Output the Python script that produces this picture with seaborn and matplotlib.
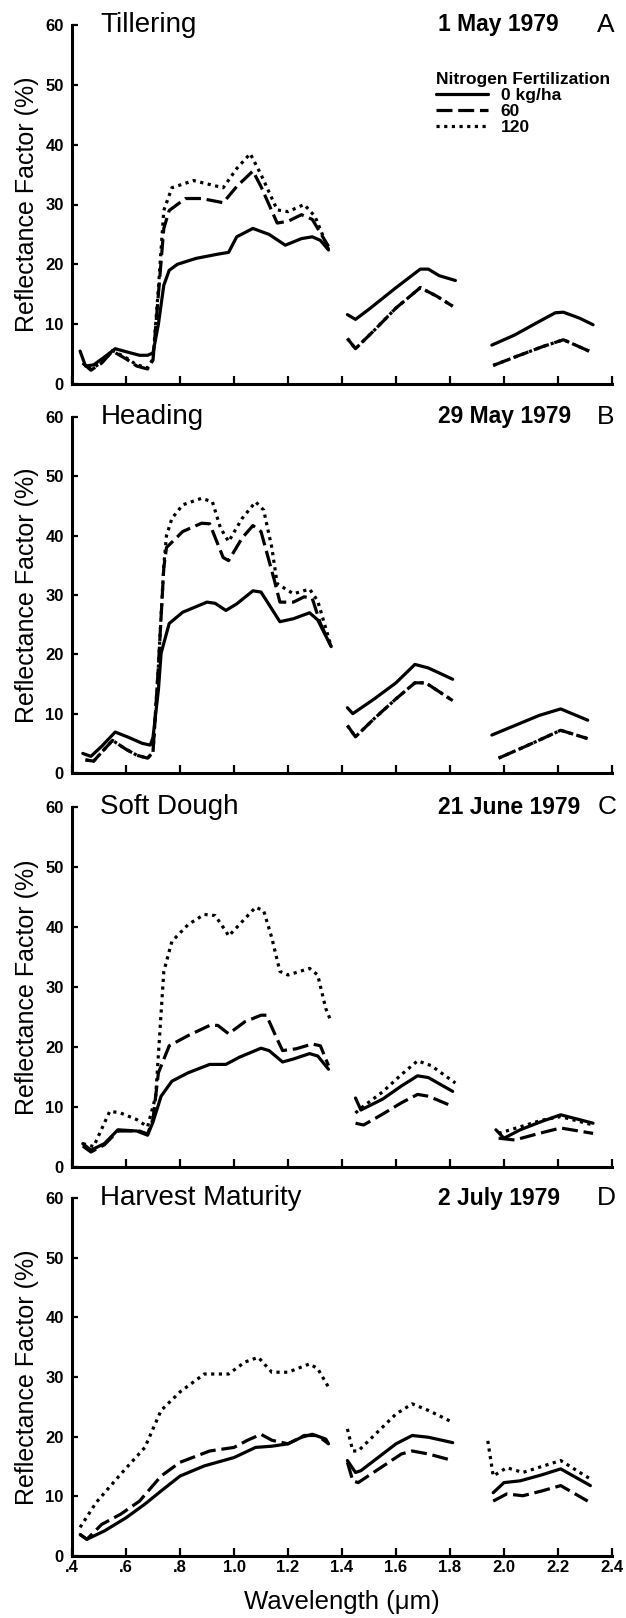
import numpy as np
import pandas as pd
import matplotlib
matplotlib.use("Agg")
import matplotlib.pyplot as plt
import seaborn as sns
from matplotlib.lines import Line2D

# Spectral reflectance of wheat canopies, 3 nitrogen levels, 4 growth stages
levels = ["0 kg/ha", "60", "120"]
panel_titles = ["Tillering", "Heading", "Soft Dough", "Harvest Maturity"]
panel_dates = ["1 May 1979", "29 May 1979", "21 June 1979", "2 July 1979"]
panel_letters = ["A", "B", "C", "D"]
x_ticks = [0.4, 0.6, 0.8, 1.0, 1.2, 1.4, 1.6, 1.8, 2.0, 2.2, 2.4]
x_ticklabels = [".4", ".6", ".8", "1.0", "1.2", "1.4", "1.6", "1.8", "2.0", "2.2", "2.4"]

# --- A: Tillering
A_wl_0 = [0.43, 0.45, 0.48, 0.52, 0.56, 0.60, 0.65, 0.68, 0.70, 0.72, 0.74, 0.76, 0.79, 0.86, 0.94, 0.98, 1.01, 1.07, 1.13, 1.19, 1.25, 1.29, 1.32, 1.35,
          1.42, 1.45, 1.50, 1.60, 1.69, 1.72, 1.76, 1.82,
          1.955, 2.04, 2.12, 2.19, 2.22, 2.28, 2.33]
A_rf_0 = [5.5, 3.0, 3.2, 4.5, 5.9, 5.4, 4.8, 4.8, 5.2, 10, 16.5, 19, 20, 21, 21.7, 22, 24.6, 26, 25, 23.2, 24.3, 24.6, 24, 22.4,
          11.6, 10.8, 12.5, 16.1, 19.2, 19.2, 18.1, 17.3,
          6.5, 8.2, 10.2, 11.9, 12, 11, 9.9]
A_wl_60 = [0.44, 0.47, 0.51, 0.55, 0.60, 0.64, 0.68, 0.70, 0.72, 0.74, 0.76, 0.82, 0.88, 0.96, 1.01, 1.07, 1.10, 1.16, 1.20, 1.25, 1.29, 1.35,
           1.42, 1.45, 1.52, 1.60, 1.69, 1.75, 1.81,
           1.96, 2.04, 2.14, 2.22, 2.32]
A_rf_60 = [3.5, 2.3, 3.5, 5.5, 4.2, 3.0, 2.5, 4, 15, 26, 29, 31, 31, 30.3, 33, 35.6, 33, 26.9, 27.2, 28.3, 27.5, 23,
           7.6, 5.9, 9.0, 12.7, 16.1, 14.7, 13,
           3.1, 4.5, 6.2, 7.4, 5.4]
A_wl_120 = [0.44, 0.47, 0.51, 0.55, 0.60, 0.64, 0.68, 0.70, 0.72, 0.74, 0.77, 0.85, 0.96, 1.01, 1.06, 1.10, 1.16, 1.20, 1.26, 1.30, 1.35,
            1.42, 1.45, 1.52, 1.60, 1.69, 1.75, 1.81,
            1.96, 2.04, 2.14, 2.22, 2.32]
A_rf_120 = [3.5, 2.5, 3.6, 5.6, 4.4, 3.2, 2.7, 4.2, 16, 29, 32.8, 34, 32.8, 36, 38.5, 35, 29.1, 28.8, 30, 28, 22.5,
            7.6, 5.9, 9.0, 12.7, 16.1, 14.7, 13,
            3.1, 4.5, 6.2, 7.4, 5.4]

# --- B: Heading
B_wl_0 = [0.44, 0.47, 0.51, 0.56, 0.61, 0.66, 0.69, 0.70, 0.72, 0.73, 0.76, 0.81, 0.90, 0.93, 0.97, 1.01, 1.07, 1.10, 1.17, 1.22, 1.28, 1.31, 1.36,
          1.42, 1.44, 1.52, 1.60, 1.67, 1.72, 1.81,
          1.955, 2.04, 2.13, 2.21, 2.31]
B_rf_0 = [3.3, 2.8, 4.5, 6.9, 6.0, 5.0, 4.7, 6, 14, 20.2, 25.2, 27.1, 28.8, 28.6, 27.4, 28.5, 30.7, 30.5, 25.5, 26, 27, 25.8, 21.3,
          11, 10, 12.5, 15.2, 18.3, 17.7, 15.8,
          6.4, 8, 9.7, 10.8, 8.9]
B_wl_60 = [0.45, 0.48, 0.55, 0.60, 0.64, 0.68, 0.70, 0.72, 0.74, 0.75, 0.81, 0.88, 0.91, 0.96, 0.98, 1.03, 1.07, 1.10, 1.15, 1.17, 1.22, 1.26, 1.29, 1.32, 1.36,
           1.42, 1.45, 1.52, 1.60, 1.67, 1.71, 1.81,
           1.98, 2.09, 2.21, 2.31]
B_rf_60 = [2.2, 2.0, 5.5, 4.0, 3.0, 2.5, 3.5, 18, 34.6, 38, 40.7, 42.1, 42, 36.3, 35.8, 39.6, 41.7, 40.7, 32.4, 28.8, 28.8, 29.7, 29.4, 25.2, 21.3,
           8, 6.1, 9.2, 12.5, 15.2, 15.2, 12.2,
           2.5, 4.7, 7.2, 5.8]
B_wl_120 = [0.45, 0.48, 0.55, 0.60, 0.64, 0.68, 0.70, 0.72, 0.74, 0.75, 0.77, 0.81, 0.88, 0.92, 0.95, 0.98, 1.03, 1.08, 1.11, 1.14, 1.16, 1.22, 1.28, 1.31, 1.36,
            1.42, 1.45, 1.52, 1.60, 1.67, 1.71, 1.81,
            1.98, 2.09, 2.21, 2.31]
B_rf_120 = [2.2, 2.0, 5.5, 4.0, 3.0, 2.5, 3.5, 18, 35, 40, 42.9, 45.2, 46.3, 45.7, 41.3, 39, 42.9, 45.7, 44.3, 38, 31.9, 30.2, 31, 29, 21.3,
            8, 6.1, 9.2, 12.5, 15.2, 15.2, 12.2,
            2.5, 4.7, 7.2, 5.8]

# --- C: Soft Dough
C_wl_0 = [0.44, 0.47, 0.52, 0.57, 0.64, 0.68, 0.70, 0.73, 0.77, 0.83, 0.91, 0.97, 1.02, 1.10, 1.13, 1.18, 1.22, 1.28, 1.31, 1.33, 1.35,
          1.45, 1.47, 1.55, 1.62, 1.68, 1.72, 1.81,
          1.97, 2.00, 2.06, 2.14, 2.21, 2.33]
C_rf_0 = [3.9, 2.8, 3.9, 6.2, 6.0, 5.3, 7.5, 11.8, 14.3, 15.7, 17.1, 17.1, 18.3, 19.8, 19.4, 17.5, 18, 18.9, 18.5, 17.4, 16.3,
          11.5, 9.5, 11.3, 13.5, 15.2, 14.9, 12.6,
          6.2, 4.8, 6.2, 7.6, 8.7, 7.3]
C_wl_60 = [0.44, 0.47, 0.52, 0.57, 0.65, 0.68, 0.70, 0.72, 0.76, 0.83, 0.91, 0.94, 0.98, 1.04, 1.10, 1.12, 1.16, 1.18, 1.23, 1.29, 1.32, 1.35,
           1.45, 1.48, 1.55, 1.62, 1.68, 1.72, 1.81,
           1.98, 2.04, 2.13, 2.21, 2.33]
C_rf_60 = [3.5, 2.5, 3.7, 6.0, 6.0, 5.5, 8, 15.7, 20.2, 21.9, 23.6, 23.6, 22.2, 24.2, 25.3, 25.3, 21.3, 19.4, 19.7, 20.5, 20.2, 16.9,
           7.3, 7.0, 8.8, 10.7, 12.1, 11.8, 10.1,
           4.8, 4.5, 5.6, 6.5, 5.6]
C_wl_120 = [0.44, 0.48, 0.54, 0.58, 0.64, 0.68, 0.71, 0.74, 0.77, 0.83, 0.89, 0.93, 0.97, 0.98, 1.02, 1.08, 1.11, 1.14, 1.17, 1.20, 1.28, 1.31, 1.34, 1.36,
            1.45, 1.47, 1.55, 1.62, 1.68, 1.73, 1.82,
            1.98, 2.06, 2.14, 2.21, 2.33]
C_rf_120 = [3.9, 3.4, 9.3, 9.0, 7.9, 6.7, 11.8, 32.6, 37.6, 40.4, 42.1, 41.9, 39.3, 38.5, 40.4, 43.3, 42.7, 38.2, 32.6, 32, 33.1, 32, 26.4, 24.2,
            9, 9.8, 12.5, 15.4, 17.7, 16.9, 14,
            5.6, 6.7, 7.8, 8.4, 7]

# --- D: Harvest Maturity
D_wl_0 = [0.43, 0.455, 0.52, 0.60, 0.67, 0.73, 0.80, 0.89, 1.00, 1.08, 1.14, 1.20, 1.25, 1.29, 1.34, 1.35,
          1.42, 1.45, 1.47, 1.60, 1.66, 1.72, 1.81,
          1.96, 2.00, 2.06, 2.14, 2.21, 2.32]
D_rf_0 = [3.6, 2.8, 4.2, 6.4, 8.7, 10.9, 13.4, 15.1, 16.5, 18.2, 18.4, 18.8, 19.9, 20.4, 19.6, 18.8,
          16, 14, 14.3, 18.8, 20.2, 19.9, 19,
          10.6, 12.3, 12.6, 13.6, 14.6, 11.8]
D_wl_60 = [0.43, 0.455, 0.51, 0.58, 0.65, 0.73, 0.80, 0.91, 1.00, 1.05, 1.10, 1.14, 1.20, 1.26, 1.31, 1.35,
           1.42, 1.44, 1.46, 1.62, 1.66, 1.72, 1.81,
           1.96, 2.01, 2.07, 2.14, 2.21, 2.31]
D_rf_60 = [3.6, 2.8, 5.3, 7, 9.2, 13.4, 15.7, 17.6, 18.2, 19.4, 20.4, 19.4, 18.8, 20.2, 20.2, 18.8,
           15.7, 12.6, 12.3, 17.1, 17.6, 17.1, 16,
           9.2, 10.4, 10.1, 10.9, 11.8, 9.2]
D_wl_120 = [0.43, 0.49, 0.58, 0.67, 0.73, 0.80, 0.89, 0.98, 1.04, 1.09, 1.14, 1.20, 1.28, 1.31, 1.35,
            1.42, 1.44, 1.46, 1.60, 1.66, 1.72, 1.81,
            1.94, 1.96, 2.01, 2.07, 2.14, 2.21, 2.32]
D_rf_120 = [4.8, 9, 13.7, 18.2, 24.4, 27.5, 30.5, 30.5, 32.5, 33.3, 30.8, 30.8, 32.2, 31.4, 28.3,
            21.3, 17.6, 17.6, 23.8, 25.5, 24.4, 22.4,
            19.3, 13.4, 14.8, 14, 15, 16, 12.9]

panels = [
    [(A_wl_0, A_rf_0), (A_wl_60, A_rf_60), (A_wl_120, A_rf_120)],
    [(B_wl_0, B_rf_0), (B_wl_60, B_rf_60), (B_wl_120, B_rf_120)],
    [(C_wl_0, C_rf_0), (C_wl_60, C_rf_60), (C_wl_120, C_rf_120)],
    [(D_wl_0, D_rf_0), (D_wl_60, D_rf_60), (D_wl_120, D_rf_120)],
]

dash_map = {"0 kg/ha": "", "60": (5, 1.8), "120": (1, 1.4)}

sns.set_style("ticks")
plt.rcParams["font.family"] = ["Liberation Sans", "DejaVu Sans"]
plt.rcParams.update({"text.color": "black", "axes.labelcolor": "black",
                     "xtick.color": "black", "ytick.color": "black",
                     "axes.edgecolor": "black"})

W, H = 626, 1618
fig = plt.figure(figsize=(W / 100, H / 100), dpi=100)

# axes boxes in pixels: (y at 60, y at 0)
boxes = [(25, 384), (417, 773), (807, 1167), (1198, 1556)]
x_left, x_right = 72, 612

for i, (series, (y_top, y_bot)) in enumerate(zip(panels, boxes)):
    ax = fig.add_axes([x_left / W, 1 - y_bot / H, (x_right - x_left) / W, (y_bot - y_top) / H])

    frames = []
    for lvl, (wl, rf) in zip(levels, series):
        d = pd.DataFrame({"wavelength": wl, "reflectance": rf})
        d["nitrogen"] = lvl
        # split at the water absorption bands
        d["segment"] = np.digitize(d["wavelength"], [1.39, 1.9])
        frames.append(d)
    df = pd.concat(frames, ignore_index=True)

    sns.lineplot(data=df, x="wavelength", y="reflectance", style="nitrogen",
                 style_order=levels, dashes=dash_map, units="segment",
                 estimator=None, sort=False, color="black", lw=2.3,
                 legend=False, ax=ax)

    ax.set_xlim(0.4, 2.4)
    ax.set_ylim(0, 60)
    ax.set_yticks(range(0, 61, 10))
    ax.set_xticks(x_ticks)
    sns.despine(ax=ax)
    for s in ["left", "bottom"]:
        ax.spines[s].set_linewidth(2.2)
    ax.tick_params(axis="x", direction="in", length=6, width=1.6)
    ax.tick_params(axis="y", direction="in", length=4, width=1.6, labelsize=12, pad=6)
    for t in ax.get_yticklabels():
        t.set_fontweight("bold")

    if i == 3:
        ax.set_xticklabels(x_ticklabels, fontsize=12, fontweight="bold")
        ax.tick_params(axis="x", pad=3)
        ax.set_xlabel("Wavelength (\u03bcm)", fontsize=18.5, labelpad=11)
    else:
        ax.set_xticklabels([])
        ax.set_xlabel("")

    ax.set_ylabel("Reflectance Factor (%)", fontsize=18)
    ax.yaxis.set_label_coords(-0.062, 0.5)

    ax.text(0.505, 60, panel_titles[i], fontsize=20, va="center", ha="left", clip_on=False)
    ax.text(1.754, 60, panel_dates[i], fontsize=16.5, fontweight="bold", va="center", ha="left", clip_on=False)
    ax.text(2.345, 60, panel_letters[i], fontsize=19, va="center", ha="left", clip_on=False)

    if i == 0:
        handles = [Line2D([], [], color="black", lw=2.3, ls="-"),
                   Line2D([], [], color="black", lw=2.3, dashes=dash_map["60"]),
                   Line2D([], [], color="black", lw=2.3, dashes=dash_map["120"])]
        leg = ax.legend(handles, levels, title="Nitrogen Fertilization",
                        loc="upper left", bbox_to_anchor=(1.747, 52.2),
                        bbox_transform=ax.transData, frameon=False,
                        fontsize=12.5, title_fontsize=12.5, handlelength=3.0,
                        handletextpad=0.75, labelspacing=0.05, borderpad=0,
                        borderaxespad=0, alignment="left")
        leg.get_title().set_fontweight("bold")
        for t in leg.get_texts():
            t.set_fontweight("bold")

fig.savefig("out.png", dpi=100)
